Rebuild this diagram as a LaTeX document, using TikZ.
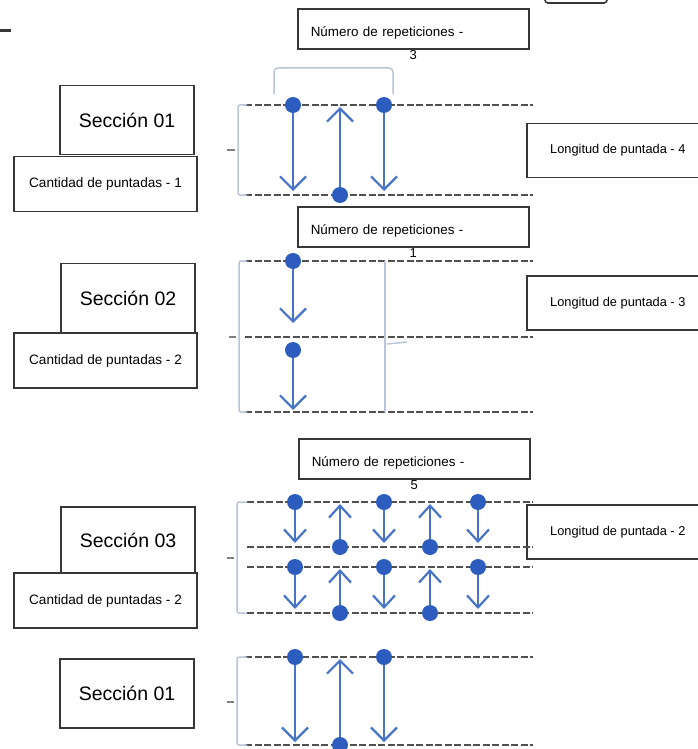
\documentclass[tikz,border=0pt]{standalone}
\usepackage{fontspec}
\setmainfont{Liberation Sans}
\usepackage{tikz}
\usetikzlibrary{arrows.meta,positioning}

\definecolor{dotblue}{RGB}{44,92,190}
\definecolor{arrowblue}{RGB}{72,116,200}
\definecolor{guide}{RGB}{186,196,216}
\definecolor{seamgray}{RGB}{80,80,80}
\definecolor{boxgray}{RGB}{55,55,55}

\begin{document}
\begin{tikzpicture}[x=1pt,y=-1pt,
  box/.style={draw=boxgray, line width=1.6pt, inner sep=0pt},
  secbox/.style={box, minimum width=134pt, minimum height=69pt, font=\fontsize{19.5}{22}\selectfont},
  cantbox/.style={box, minimum width=183pt, minimum height=55pt, font=\fontsize{13.6}{15}\selectfont},
  longbox/.style={box, anchor=west, minimum width=182pt, minimum height=54pt, font=\fontsize{12.8}{14}\selectfont},
  repbox/.style={box, anchor=north west, minimum width=231pt, minimum height=40pt, inner xsep=13pt,
    text width=205pt, align=left, text height=15pt, text depth=0pt, font=\fontsize{13.4}{15}\selectfont},
  numlbl/.style={font=\fontsize{13}{14}\selectfont, inner sep=0.5pt},
  seam/.style={draw=seamgray, line width=2.6pt, dash pattern=on 7pt off 2.5pt},
  guideline/.style={draw=guide, line width=1.5pt},
  tickmark/.style={draw=black!50, line width=1.2pt},
  dot/.style={circle, fill=dotblue, minimum size=16pt, inner sep=0pt},
  stitch/.style={draw=arrowblue, line width=2.2pt, -{Straight Barb[length=13pt,width=26pt]}},
  stitchs/.style={draw=arrowblue, line width=2.2pt, -{Straight Barb[length=12pt,width=22pt]}}]
\useasboundingbox (0,0) rectangle (698,749);
% bits cut off at the top edge
\draw[draw=boxgray, line width=1.6pt, rounded corners=3pt] (545,-10) rectangle (607,3);
\draw[draw=boxgray, line width=3pt] (0,31) -- (11,31);

% ---- Seccion 01 ----
\node[secbox] (sec1) at (127,120) {Sección 01};
\node[cantbox] (cant1) at (105.5,184) {Cantidad de puntadas - 1};
\node[repbox, label={[numlbl]below:3}] (rep1) at (297,8) {Número de repeticiones -};
\node[longbox] (long1) at (526,150.5) {Longitud de puntada - 4};
\foreach \y in {105,195} \draw[seam] (245,\y) -- (533,\y);
\draw[guideline, rounded corners=2pt] (247,105) -- (238,105) -- (238,195) -- (247,195);
\draw[tickmark] (227,150) -- (235,150);
\draw[guideline, rounded corners=4pt] (274,94) -- (274,68) -- (393,68) -- (393,94);
\foreach \x [count=\i] in {293,384} {
  \node[dot] (a\i) at (\x,105) {};
  \coordinate (ae\i) at (\x,191);
  \draw[stitch] (a\i) -- (ae\i);
}
\node[dot] (ab) at (340,195) {};
\coordinate (abe) at (340,107);
\draw[stitch] (ab) -- (abe);

% ---- Seccion 02 ----
\node[secbox] (sec2) at (128,298) {Sección 02};
\node[cantbox] (cant2) at (105.5,360.5) {Cantidad de puntadas - 2};
\node[repbox, label={[numlbl]below:1}] (rep2) at (297,206) {Número de repeticiones -};
\node[longbox] (long2) at (526,303) {Longitud de puntada - 3};
\foreach \y in {261,337,412} \draw[seam] (245,\y) -- (533,\y);
\draw[guideline, rounded corners=2pt] (247,261) -- (239,261) -- (239,412) -- (247,412);
\draw[tickmark] (229,337) -- (236,337);
\draw[guideline] (385,261) -- (385,412);
\draw[guideline] (387,344) -- (407,342);
\node[dot] (b1) at (293,261) {};
\node[dot] (b2) at (293,350) {};
\coordinate (be1) at (293,323);
\coordinate (be2) at (293,410);
\draw[stitch] (b1) -- (be1);
\draw[stitch] (b2) -- (be2);

% ---- Seccion 03 ----
\node[secbox, minimum height=66pt] (sec3) at (128,540) {Sección 03};
\node[cantbox] (cant3) at (105.5,600.5) {Cantidad de puntadas - 2};
\node[repbox, label={[numlbl]below:5}] (rep3) at (298,438) {Número de repeticiones -};
\node[longbox] (long3) at (526,532) {Longitud de puntada - 2};
\foreach \y in {502,547,567,613} \draw[seam] (247,\y) -- (533,\y);
\draw[guideline, rounded corners=2pt] (247,502) -- (237,502) -- (237,613) -- (247,613);
\draw[tickmark] (227,558) -- (234,558);
\foreach \r/\ya/\yb in {1/502/547,2/567/613} {
  \foreach \x [count=\i] in {295,384,478} {
    \node[dot] (c\r t\i) at (\x,\ya) {};
    \coordinate (c\r te\i) at (\x,\yb-4);
    \draw[stitchs] (c\r t\i) -- (c\r te\i);
  }
  \foreach \x [count=\i] in {340,430} {
    \node[dot] (c\r b\i) at (\x,\yb) {};
    \coordinate (c\r be\i) at (\x,\ya+2);
    \draw[stitchs] (c\r b\i) -- (c\r be\i);
  }
}

% ---- Seccion 01 (otra vez) ----
\node[secbox] (sec4) at (127,693.5) {Sección 01};
\foreach \y in {657,745} \draw[seam] (245,\y) -- (533,\y);
\draw[guideline, rounded corners=2pt] (247,657) -- (237,657) -- (237,745) -- (247,745);
\draw[tickmark] (227,702) -- (234,702);
\foreach \x [count=\i] in {295,384} {
  \node[dot] (d\i) at (\x,657) {};
  \coordinate (de\i) at (\x,742);
  \draw[stitch] (d\i) -- (de\i);
}
\node[dot] (db) at (340,745) {};
\coordinate (dbe) at (340,659);
\draw[stitch] (db) -- (dbe);
\end{tikzpicture}
\end{document}
